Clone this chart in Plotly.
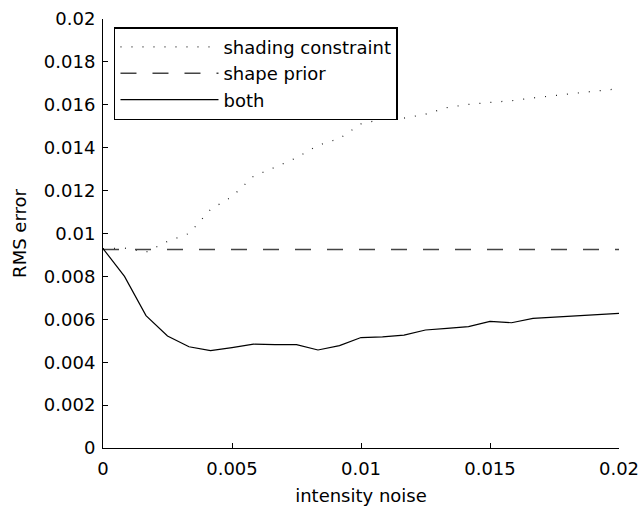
import plotly.graph_objects as go

noise = [i * 0.02 / 24 for i in range(25)]
shading_constraint = [0.0093, 0.00932, 0.00913, 0.00963, 0.0100, 0.01112, 0.01172, 0.01267,
                      0.01309, 0.01353, 0.01411, 0.01443, 0.01511, 0.01533, 0.01538, 0.01556,
                      0.01587, 0.01602, 0.01611, 0.01619, 0.01632, 0.01644, 0.01656, 0.01665, 0.01675]
shape_prior = [0.00925] * 25
both = [0.0093, 0.0080, 0.00617, 0.00522, 0.00472, 0.00454, 0.00468, 0.00484, 0.00482,
        0.00482, 0.00457, 0.00477, 0.00515, 0.00518, 0.00526, 0.0055, 0.00558, 0.00566,
        0.0059, 0.00584, 0.00604, 0.0061, 0.00616, 0.00622, 0.00628]

x_ticks = [0, 0.005, 0.01, 0.015, 0.02]
x_ticklabels = ["0", "0.005", "0.01", "0.015", "0.02"]
y_ticks = [0, 0.002, 0.004, 0.006, 0.008, 0.01, 0.012, 0.014, 0.016, 0.018, 0.02]
y_ticklabels = ["0", "0.002", "0.004", "0.006", "0.008", "0.01", "0.012", "0.014", "0.016", "0.018", "0.02"]

FONT = "DejaVu Sans, Liberation Sans, Arial, sans-serif"
FS = 18

fig = go.Figure()
fig.add_trace(go.Scatter(x=noise, y=shading_constraint, mode="lines", name="shading constraint",
                         line=dict(color="#222222", width=1.2, dash="1px,10px")))
fig.add_trace(go.Scatter(x=noise, y=shape_prior, mode="lines", name="shape prior",
                         line=dict(color="#444444", width=1.5, dash="16px,16px")))
fig.add_trace(go.Scatter(x=noise, y=both, mode="lines", name="both",
                         line=dict(color="black", width=1.2)))

fig.update_layout(
    width=642, height=506,
    margin=dict(l=103, r=23, t=19, b=58),
    plot_bgcolor="white", paper_bgcolor="white",
    font=dict(family=FONT, size=FS, color="black"),
    showlegend=True,
    legend=dict(x=0.0213, y=0.981, xanchor="left", yanchor="top",
                bgcolor="white", bordercolor="black", borderwidth=1.5,
                font=dict(size=FS), itemwidth=98, tracegroupgap=0),
    xaxis=dict(range=[0, 0.02], tickvals=x_ticks, ticktext=x_ticklabels,
               ticks="inside", ticklen=5, tickcolor="black", tickwidth=1,
               ticklabelstandoff=4,
               showline=True, linecolor="black", linewidth=1, mirror=False,
               showgrid=False, zeroline=False, automargin=False,
               title=dict(text="intensity noise", font=dict(size=FS), standoff=11)),
    yaxis=dict(range=[0, 0.02], tickvals=y_ticks, ticktext=y_ticklabels,
               ticks="inside", ticklen=5, tickcolor="black", tickwidth=1,
               ticklabelstandoff=3,
               showline=True, linecolor="black", linewidth=1, mirror=False,
               showgrid=False, zeroline=False, automargin=False,
               title=dict(text="RMS error", font=dict(size=FS), standoff=12)),
)

fig.write_html("out.html", config={"displayModeBar": False},
               post_script="document.body.style.margin='0px';")
